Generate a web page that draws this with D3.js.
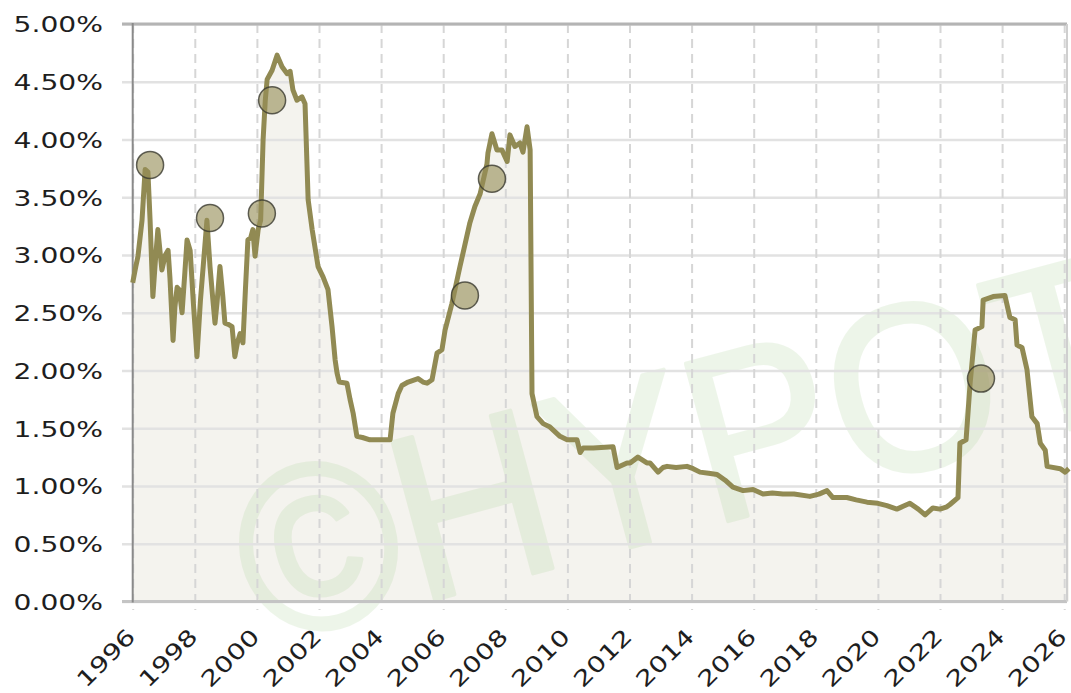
<!DOCTYPE html>
<html>
<head>
<meta charset="utf-8">
<script src="https://cdn.jsdelivr.net/npm/d3@7"></script>
<style>
  html, body { margin: 0; padding: 0; background: #ffffff; }
  svg { display: block; }
</style>
</head>
<body>
<svg id="chart" width="1071" height="693"></svg>
<script>
// ---- data ----
const years = [
  1996.00,1996.10,1996.17,1996.30,1996.40,1996.49,1996.56,1996.65,1996.73,1996.81,1996.94,
  1997.05,1997.14,1997.20,1997.30,1997.36,1997.43,1997.50,1997.59,1997.68,1997.75,1997.85,1997.95,
  1998.07,1998.18,1998.30,1998.39,1998.49,1998.57,1998.65,1998.72,1998.81,1998.90,1998.97,
  1999.08,1999.20,1999.29,1999.38,1999.46,1999.55,1999.63,1999.71,1999.80,1999.87,1999.94,
  2000.04,2000.12,2000.20,2000.27,2000.33,2000.49,2000.65,2000.81,2000.97,
  2001.07,2001.16,2001.29,2001.45,2001.55,2001.65,2001.78,2001.97,
  2002.13,2002.29,2002.42,2002.52,2002.58,2002.65,2002.90,
  2003.00,2003.10,2003.22,2003.40,2003.64,2004.00,2004.29,2004.38,2004.55,2004.67,2004.87,
  2005.19,2005.35,2005.48,2005.64,2005.80,2005.96,2006.06,2006.28,2006.54,2006.86,
  2007.02,2007.19,2007.41,2007.44,2007.57,2007.73,2007.89,
  2008.06,2008.15,2008.31,2008.47,2008.57,2008.70,2008.80,2008.86,
  2009.02,2009.22,2009.44,2009.76,2009.99,2010.31,2010.41,2010.51,2010.83,
  2011.47,2011.60,2011.92,2012.02,2012.27,2012.56,2012.66,2012.92,
  2013.08,2013.21,2013.50,2013.85,2014.05,2014.27,2014.55,2014.82,2015.08,2015.33,2015.66,2015.98,
  2016.30,2016.60,2016.94,2017.30,2017.81,2018.10,2018.36,2018.55,2019.00,2019.30,2019.65,2020.00,2020.29,2020.61,
  2021.03,2021.30,2021.52,2021.77,2022.00,2022.22,2022.32,2022.58,2022.64,2022.84,2022.97,
  2023.13,2023.35,2023.39,2023.71,2024.09,2024.25,2024.42,2024.48,2024.64,2024.80,2024.96,
  2025.13,2025.23,2025.39,2025.45,2025.87,2026.03,2026.15
];
const rates = [
  2.76,2.90,2.99,3.30,3.74,3.72,3.30,2.64,2.95,3.22,2.87,
  3.00,3.04,2.80,2.26,2.55,2.72,2.70,2.50,2.85,3.13,3.04,2.60,
  2.12,2.60,3.00,3.30,2.90,2.65,2.41,2.60,2.90,2.65,2.41,
  2.40,2.38,2.12,2.25,2.32,2.24,2.70,3.13,3.15,3.22,2.99,
  3.22,3.30,4.00,4.34,4.52,4.60,4.73,4.63,4.57,
  4.59,4.43,4.34,4.37,4.31,3.48,3.22,2.90,
  2.81,2.70,2.38,2.09,1.98,1.90,1.89,
  1.75,1.63,1.43,1.42,1.40,1.40,1.40,1.63,1.80,1.87,1.90,
  1.93,1.90,1.89,1.92,2.15,2.18,2.35,2.58,2.90,3.28,
  3.42,3.53,3.79,3.88,4.05,3.91,3.91,
  3.81,4.04,3.94,3.97,3.89,4.11,3.91,1.80,
  1.60,1.54,1.51,1.43,1.40,1.40,1.29,1.33,1.33,
  1.34,1.16,1.20,1.20,1.25,1.20,1.20,1.12,
  1.16,1.17,1.16,1.17,1.15,1.12,1.11,1.10,1.05,0.99,0.96,0.97,
  0.93,0.94,0.93,0.93,0.91,0.93,0.96,0.90,0.90,0.88,0.86,0.85,0.83,0.80,
  0.85,0.80,0.75,0.81,0.80,0.82,0.84,0.90,1.37,1.40,1.89,
  2.35,2.38,2.61,2.64,2.65,2.46,2.44,2.22,2.20,2.01,1.60,
  1.54,1.37,1.31,1.17,1.15,1.12,1.15
];
// highlighted points
const markerYears = [1996.56, 1998.49, 2000.16, 2000.49, 2006.70, 2007.57, 2023.32];
const markerRates = [3.78, 3.32, 3.36, 4.34, 2.65, 3.66, 1.93];
// axis ticks
const yTickValues = [0, 0.5, 1, 1.5, 2, 2.5, 3, 3.5, 4, 4.5, 5];
const xTickValues = [1996,1998,2000,2002,2004,2006,2008,2010,2012,2014,2016,2018,2020,2022,2024,2026];
const watermarkText = "©HYPOT";

(function () {
// ---- layout ----
const svg = d3.select("#chart");
const pL = 132.7, pR = 1067, pT = 24, pB = 601.5;
const x = d3.scaleLinear().domain([1996, 2026]).range([132.7, 1064.2]);
const y = d3.scaleLinear().domain([0, 5]).range([pB, pT]);
const lineColor = "#918a53";
const stretch = 1.28;

const series = years.map((d, i) => ({ t: d, v: rates[i] }));
const markers = markerYears.map((d, i) => ({ t: d, v: markerRates[i] }));

// area fill
const area = d3.area().x(d => x(d.t)).y0(y(0)).y1(d => y(d.v));
svg.append("path").datum(series)
  .attr("d", area)
  .attr("fill", "#f4f3ee");

// watermark
svg.append("g")
  .attr("transform", "translate(262,646) rotate(-15) scale(0.95,1.03)")
  .attr("opacity", 0.2)
  .append("text")
  .text(watermarkText)
  .attr("font-family", "Liberation Sans")
  .attr("font-size", 230)
  .attr("fill", "rgb(170,210,150)")
  .attr("stroke", "rgb(170,210,150)")
  .attr("stroke-width", 4)
  .attr("stroke-linejoin", "round");

// horizontal gridlines (extending a little left of the axis as ticks)
const gGrid = svg.append("g").attr("transform", "translate(122,0)")
  .call(d3.axisRight(y).tickValues(yTickValues).tickSize(pR - 122).tickFormat(""));
gGrid.select(".domain").remove();
gGrid.selectAll(".tick line")
  .attr("stroke", "#e2e2e2")
  .attr("stroke-width", 2.5);

// vertical dashed gridlines
const gX = svg.append("g").attr("transform", `translate(0,${pT})`)
  .call(d3.axisBottom(x).tickValues(xTickValues).tickSize(610 - pT).tickFormat(""));
gX.select(".domain").remove();
gX.selectAll(".tick line")
  .attr("stroke", "#d6d6d6")
  .attr("stroke-width", 2)
  .attr("stroke-dasharray", "9,6");

// frame lines
svg.append("line").attr("x1", 122).attr("x2", pR).attr("y1", pT).attr("y2", pT)
  .attr("stroke", "#b4b4b4").attr("stroke-width", 3);
svg.append("line").attr("x1", 122).attr("x2", pR).attr("y1", pB).attr("y2", pB)
  .attr("stroke", "#c4c4c4").attr("stroke-width", 3);
svg.append("line").attr("x1", pR).attr("x2", pR).attr("y1", pT).attr("y2", pB)
  .attr("stroke", "#cfcfcf").attr("stroke-width", 2);
svg.append("line").attr("x1", pL).attr("x2", pL).attr("y1", pT - 1).attr("y2", pB + 1)
  .attr("stroke", "#8a8a8a").attr("stroke-width", 2);

// line
const line = d3.line().x(d => x(d.t)).y(d => y(d.v));
svg.append("path").datum(series)
  .attr("d", line)
  .attr("fill", "none")
  .attr("stroke", lineColor)
  .attr("stroke-width", 5)
  .attr("stroke-linejoin", "round");

// markers
svg.append("g").selectAll("circle").data(markers).join("circle")
  .attr("cx", d => x(d.t))
  .attr("cy", d => y(d.v))
  .attr("r", 13.5)
  .attr("fill", "#968e57")
  .attr("fill-opacity", 0.62)
  .attr("stroke", "#3a3a30")
  .attr("stroke-opacity", 0.8)
  .attr("stroke-width", 1.5);

// y axis labels
const yAxis = d3.axisLeft(y).tickValues(yTickValues).tickSize(0)
  .tickFormat(d => d.toFixed(2) + "%");
const gY = svg.append("g").attr("transform", "translate(103,0)").call(yAxis);
gY.select(".domain").remove();
gY.selectAll(".tick text")
  .attr("x", 0)
  .attr("dy", "0.36em")
  .attr("transform", `scale(${stretch},1)`)
  .attr("font-family", "DejaVu Sans")
  .attr("font-size", 22)
  .attr("fill", "#1e1e1e");

// x axis labels
const xAxis = d3.axisBottom(x).tickValues(xTickValues).tickSize(0).tickFormat(d3.format("d"));
const gXL = svg.append("g").attr("transform", "translate(3.5,638)").call(xAxis);
gXL.select(".domain").remove();
gXL.selectAll(".tick text")
  .attr("x", 0).attr("y", 0).attr("dy", 0)
  .attr("text-anchor", "end")
  .attr("transform", `rotate(-45) scale(${stretch},1)`)
  .attr("font-family", "DejaVu Sans")
  .attr("font-size", 22)
  .attr("fill", "#1e1e1e");
})();
</script>
</body>
</html>
